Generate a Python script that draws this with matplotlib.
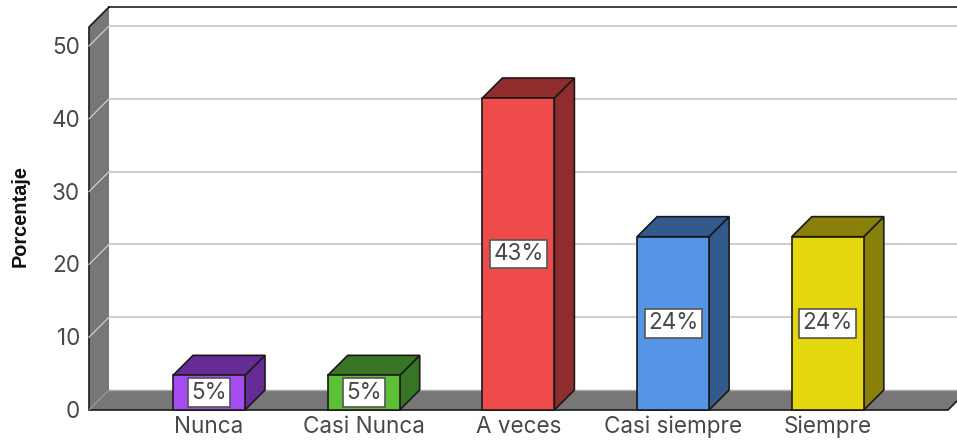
import matplotlib
matplotlib.use("Agg")
import matplotlib.pyplot as plt
from matplotlib.patches import Polygon

categories = ["Nunca", "Casi Nunca", "A veces", "Casi siempre", "Siempre"]
values = [4.76, 4.76, 42.86, 23.81, 23.81]
labels = ["5%", "5%", "43%", "24%", "24%"]
front_colors = ["#A64BF0", "#5CBF36", "#EF4B4B", "#5595E6", "#E5D70E"]
dark_colors = ["#662C96", "#377524", "#8F2D2D", "#335A8C", "#8A810A"]
yticks = [0, 10, 20, 30, 40, 50]

plt.rcParams["font.family"] = ["Inter", "Liberation Sans", "DejaVu Sans"]

W, H = 957, 441
PX_X = 154.7      # pixels per category
PX_Y = 7.28       # pixels per percent
X0 = 209.0        # pixel of first category centre
Y0 = 410.0        # pixel of value 0
DX = 20 / PX_X    # depth offset in data units
DY = 20 / PX_Y
BW = 72 / PX_X
TOP = (Y0 - 27) / PX_Y
LEFT = (89 - X0) / PX_X
RIGHT = (948 - X0) / PX_X
XMAX = (W - X0) / PX_X
FS = 16.2

fig = plt.figure(figsize=(W / 100, H / 100), dpi=100)
ax = fig.add_axes([0, 0, 1, 1])
ax.set_xlim(-X0 / PX_X, XMAX)
ax.set_ylim(-(H - Y0) / PX_Y, Y0 / PX_Y)
ax.axis("off")

EDGE = "#1a1a1a"
GRID = "#CFCFCF"
WALL = "#777777"
TEXT = "#484848"

# back wall top line
ax.plot([LEFT + DX, XMAX], [TOP + DY, TOP + DY], color="#333333", lw=1.3, zorder=1)
# back gridlines
for t in yticks[1:]:
    ax.plot([LEFT + DX, XMAX], [t + DY, t + DY], color=GRID, lw=1.5, zorder=1)

# left wall
ax.add_patch(Polygon([(LEFT, 0), (LEFT + DX, DY), (LEFT + DX, TOP + DY), (LEFT, TOP)],
                     closed=True, facecolor=WALL, edgecolor="none", zorder=2))
ax.plot([LEFT, LEFT, LEFT + DX], [0, TOP, TOP + DY], color=EDGE, lw=1.2, zorder=3)
# floor
ax.add_patch(Polygon([(LEFT, 0), (LEFT + DX, DY), (RIGHT + DX, DY), (RIGHT, 0)],
                     closed=True, facecolor=WALL, edgecolor="none", zorder=2))
ax.plot([LEFT, RIGHT, RIGHT + DX], [0, 0, DY], color=EDGE, lw=1.2, zorder=3)
ax.plot([LEFT + DX, XMAX], [DY, DY], color="#AAAAAA", lw=1.0, zorder=3)

# gridlines on the left wall
for t in yticks[1:]:
    ax.plot([LEFT, LEFT + DX], [t, t + DY], color=GRID, lw=0.9, zorder=3)
ax.plot([LEFT, LEFT + DX], [0, DY], color="#999999", lw=0.8, zorder=3)

# bars
for i, (v, lab, fc, dc) in enumerate(zip(values, labels, front_colors, dark_colors)):
    l, r = i - BW / 2, i + BW / 2
    ax.bar(i, v, width=BW, color=fc, edgecolor=EDGE, linewidth=1.2, zorder=5)
    ax.add_patch(Polygon([(r, 0), (r + DX, DY), (r + DX, v + DY), (r, v)], closed=True,
                         facecolor=dc, edgecolor=EDGE, lw=1.2, zorder=4))
    ax.add_patch(Polygon([(l, v), (l + DX, v + DY), (r + DX, v + DY), (r, v)], closed=True,
                         facecolor=dc, edgecolor=EDGE, lw=1.2, zorder=4))
    ax.text(i, v / 2, lab, ha="center", va="center", fontsize=FS, color=TEXT, zorder=6,
            bbox=dict(boxstyle="square,pad=0.15", facecolor="white", edgecolor="#555555", linewidth=1.2))

# tick labels
for t in yticks:
    ax.text(LEFT - 9 / PX_X, t - 2 / PX_Y, str(t), ha="right", va="center", fontsize=FS, color=TEXT)
for i, c in enumerate(categories):
    ax.text(i, -17 / PX_Y, c, ha="center", va="center", fontsize=FS, color=TEXT)

# axis title
ax.text(-X0 / PX_X + 20 / PX_X, (Y0 - 216) / PX_Y, "Porcentaje", rotation=90, ha="center", va="center",
        family="Liberation Sans", fontsize=14.4, fontweight="bold", color="#111111")

fig.savefig("out.png", dpi=100)
